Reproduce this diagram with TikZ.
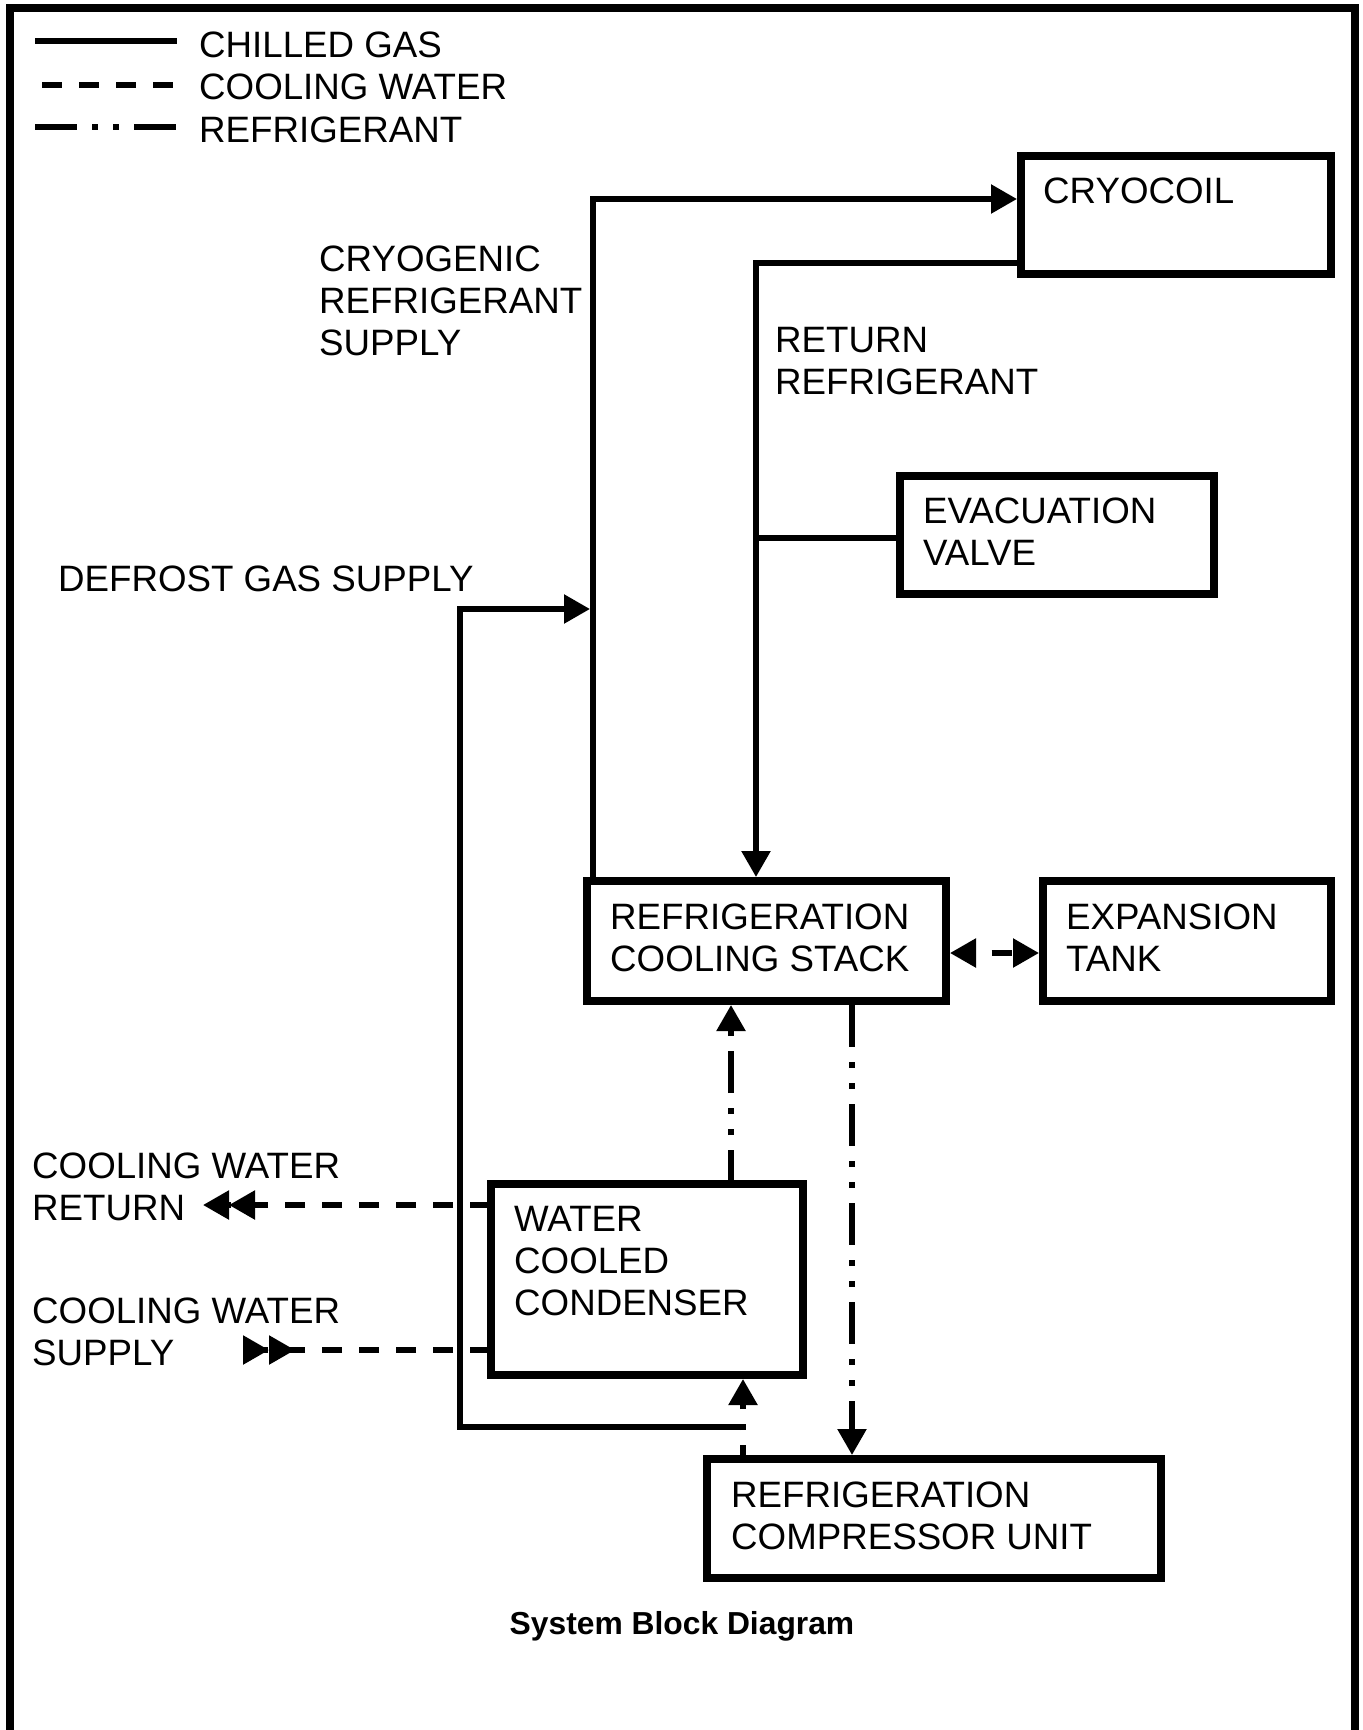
\documentclass[tikz,border=0pt]{standalone}
\usepackage{fontspec}
\setmainfont{Liberation Sans}
\usetikzlibrary{arrows.meta}

\begin{document}
\begin{tikzpicture}[x=1pt, y=-1pt,
  box/.style={draw, line width=8pt, inner sep=0pt, outer sep=4pt, anchor=north west},
  txt/.style={anchor=west, align=left, inner sep=0pt, font=\fontsize{36.7}{42}\selectfont},
  gas/.style={line width=5.5pt},
  water/.style={line width=5.5pt, dash pattern=on 20pt off 17pt, dash phase=3pt},
  refr/.style={line width=5.5pt, dash pattern=on 42pt off 15pt on 6pt off 15pt on 6pt off 15pt},
  arr/.tip={Triangle[length=26pt, width=28pt]},
  rarr/.tip={Triangle[length=26pt, width=28pt, reversed]}]
  \useasboundingbox (0,0) rectangle (1363,1730);
  \draw[line width=8pt] (10,1740) -- (10,8) -- (1355,8) -- (1355,1740);

  \draw[gas] (35,41) -- (177,41);
  \node[txt] (lgas) at (199,45) {CHILLED GAS};
  \draw[water, dash phase=0pt] (42,85) -- (177,85);
  \node[txt] (lwater) at (199,87) {COOLING WATER};
  \draw[refr] (35,127) -- (177,127);
  \node[txt] (lrefr) at (199,130) {REFRIGERANT};

  \node[box, minimum width=310pt, minimum height=118pt] (cryo) at (1017,152) {};
  \node[box, minimum width=314pt, minimum height=118pt] (evac) at (896,472) {};
  \node[box, minimum width=359pt, minimum height=120pt] (stack) at (583,877) {};
  \node[box, minimum width=288pt, minimum height=120pt] (tank) at (1039,877) {};
  \node[box, minimum width=312pt, minimum height=191pt] (cond) at (487,1180) {};
  \node[box, minimum width=454pt, minimum height=119pt] (comp) at (703,1455) {};

  \node[txt] (cryotxt) at (1043,191) {CRYOCOIL};
  \node[txt] (evactxt) at (923,532) {EVACUATION\\VALVE};
  \node[txt] (stacktxt) at (610,938) {REFRIGERATION\\COOLING STACK};
  \node[txt] (tanktxt) at (1066,938) {EXPANSION\\TANK};
  \node[txt] (condtxt) at (514,1261) {WATER\\COOLED\\CONDENSER};
  \node[txt] (comptxt) at (731,1516) {REFRIGERATION\\COMPRESSOR UNIT};
  \node[txt] (suptxt) at (319,301) {CRYOGENIC\\REFRIGERANT\\SUPPLY};
  \node[txt] (rettxt) at (775,361) {RETURN\\REFRIGERANT};
  \node[txt] (deftxt) at (58,579) {DEFROST GAS SUPPLY};
  \node[txt] (cwrtxt) at (32,1187) {COOLING WATER\\RETURN};
  \node[txt] (cwstxt) at (32,1332) {COOLING WATER\\SUPPLY};
  \node[font=\bfseries\fontsize{31.8}{36}\selectfont, anchor=base, inner sep=0pt] (title) at (682,1634) {System Block Diagram};

  \coordinate (supc) at (593,199);
  \coordinate (retc) at (756,263);
  \coordinate (evj) at (756,538);
  \coordinate (defc) at (460,609);
  \coordinate (c2r) at (743,1427);
  \coordinate (upx) at (731,1100);
  \coordinate (dnx) at (852,1100);
  \coordinate (xt) at (1000,953);
  \coordinate (cwr) at (203,1205);
  \coordinate (cws) at (243,1350);

  \draw[gas, -{arr[]}] (stack.north -| supc) -- (supc) -- (supc -| cryo.west);
  \draw[gas, -{arr[]}] (retc -| cryo.west) -- (retc) -- (retc |- stack.north);
  \draw[gas] (evj -| evac.west) -- (evj);
  \draw[gas, -{arr[]}, shorten >=3pt] (c2r) -| (defc) -- (defc -| supc);
  \draw[refr, -{arr[]}, dash phase=12pt] (cond.north -| upx) -- (stack.south -| upx);
  \draw[refr, -{arr[]}] (stack.south -| dnx) -- (comp.north -| dnx);
  \draw[refr, -{arr[]}, dash phase=32pt] (comp.north -| c2r) -- (cond.south -| c2r);
  \draw[water, {arr[]}-{arr[]}, dash phase=20pt] (stack.east |- xt) -- (tank.west |- xt);
  \draw[water, -{arr[]arr[]}] (cond.west |- cwr) -- (cwr);
  \draw[water, -{rarr[]rarr[]}] (cond.west |- cws) -- (cws);
\end{tikzpicture}
\end{document}
